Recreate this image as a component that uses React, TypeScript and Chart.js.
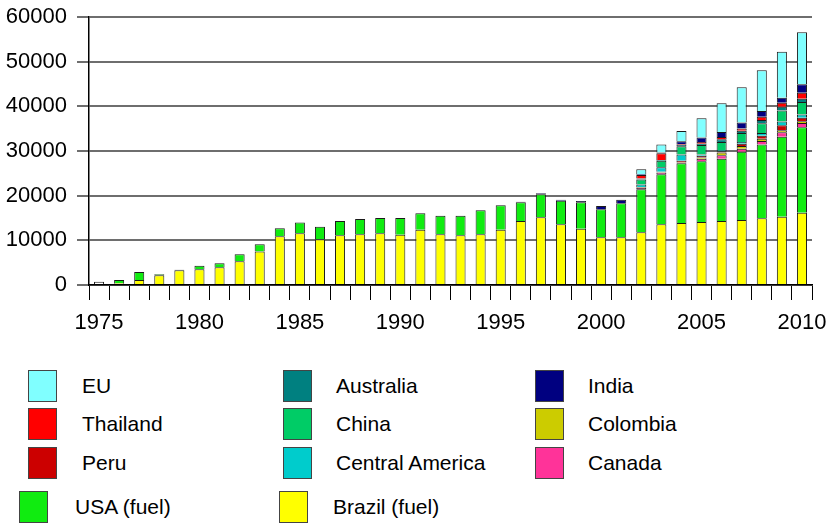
import React, { useEffect, useRef } from "react";
import { Chart, registerables } from "chart.js";
Chart.register(...registerables);

const years = [
  "1975", "1976", "1977", "1978", "1979", "1980", "1981", "1982", "1983", "1984",
  "1985", "1986", "1987", "1988", "1989", "1990", "1991", "1992", "1993", "1994",
  "1995", "1996", "1997", "1998", "1999", "2000", "2001", "2002", "2003", "2004",
  "2005", "2006", "2007", "2008", "2009", "2010",
];

const brazil = [
  700, 400, 1100, 2200, 3300, 3500, 3950, 5300, 7500, 10900,
  11600, 10230, 11130, 11350, 11600, 11260, 12380, 11350, 11130, 11350,
  12380, 14330, 15150, 13590, 12600, 10680, 10680, 11790, 13590, 13880,
  14100, 14330, 14550, 14930, 15300, 16200,
];
const usa = [
  0, 700, 1800, 200, 100, 800, 900, 1600, 1600, 1800,
  2400, 2800, 3200, 3430, 3400, 3740, 3670, 4170, 4390, 5370,
  5460, 4170, 5170, 5260, 5900, 6300, 7600, 9630, 11190, 13360,
  13590, 13960, 15300, 16550, 17900, 19100,
];
// 2002..2010 values for the other producers (earlier years are 0)
const canada = [0, 0, 0, 0, 0, 0, 0, 0, 0, 0, 0, 0, 0, 0, 0, 0, 0, 0, 0, 0, 0, 0, 0, 0, 0, 0, 0, 300, 350, 100, 600, 750, 670, 750, 970, 970];
const colombia = [0, 0, 0, 0, 0, 0, 0, 0, 0, 0, 0, 0, 0, 0, 0, 0, 0, 0, 0, 0, 0, 0, 0, 0, 0, 0, 0, 100, 100, 100, 250, 600, 600, 500, 500, 400];
const peru = [0, 0, 0, 0, 0, 0, 0, 0, 0, 0, 0, 0, 0, 0, 0, 0, 0, 0, 0, 0, 0, 0, 0, 0, 0, 0, 0, 100, 150, 400, 400, 300, 500, 700, 1120, 800];
const centralAmerica = [0, 0, 0, 0, 0, 0, 0, 0, 0, 0, 0, 0, 0, 0, 0, 0, 0, 0, 0, 0, 0, 0, 0, 0, 0, 0, 0, 600, 1000, 1350, 300, 300, 400, 600, 800, 700];
const china = [0, 0, 0, 0, 0, 0, 0, 0, 0, 0, 0, 0, 0, 0, 0, 0, 0, 0, 0, 0, 0, 0, 0, 0, 0, 0, 0, 1100, 1450, 1900, 2100, 1800, 2000, 2200, 2500, 2800];
const australia = [0, 0, 0, 0, 0, 0, 0, 0, 0, 0, 0, 0, 0, 0, 0, 0, 0, 0, 0, 0, 0, 0, 0, 0, 0, 0, 0, 200, 150, 300, 300, 600, 500, 700, 800, 750];
const thailand = [0, 0, 0, 0, 0, 0, 0, 0, 0, 0, 0, 0, 0, 0, 0, 0, 0, 0, 0, 0, 0, 0, 0, 0, 0, 0, 0, 800, 1500, 200, 400, 500, 520, 750, 900, 1340];
const india = [0, 0, 0, 0, 0, 0, 0, 0, 0, 0, 0, 0, 0, 0, 0, 0, 0, 0, 0, 0, 0, 150, 200, 250, 300, 700, 800, 200, 200, 600, 1000, 1100, 1340, 1300, 1120, 1870];
const eu = [0, 0, 0, 0, 0, 0, 0, 0, 0, 0, 0, 0, 0, 0, 0, 0, 0, 0, 0, 0, 0, 0, 0, 0, 0, 0, 0, 1080, 1800, 2280, 4270, 6430, 7870, 9080, 10330, 11640];

const yTicks = [0, 10000, 20000, 30000, 40000, 50000, 60000];

const series = [
  { name: "Brazil (fuel)", data: brazil, color: "#ffff00" },
  { name: "USA (fuel)", data: usa, color: "#10ec10" },
  { name: "Canada", data: canada, color: "#ff3399" },
  { name: "Colombia", data: colombia, color: "#cccc00" },
  { name: "Peru", data: peru, color: "#cc0000" },
  { name: "Central America", data: centralAmerica, color: "#00cccc" },
  { name: "China", data: china, color: "#00cc66" },
  { name: "Australia", data: australia, color: "#008080" },
  { name: "Thailand", data: thailand, color: "#ff0000" },
  { name: "India", data: india, color: "#000080" },
  { name: "EU", data: eu, color: "#80ffff" },
];

const legendLayout = [
  { name: "EU", bx: 28, tx: 82, y: 370 },
  { name: "Australia", bx: 283, tx: 336, y: 370 },
  { name: "India", bx: 535, tx: 588, y: 370 },
  { name: "Thailand", bx: 28, tx: 82, y: 408 },
  { name: "China", bx: 283, tx: 336, y: 408 },
  { name: "Colombia", bx: 535, tx: 588, y: 408 },
  { name: "Peru", bx: 28, tx: 82, y: 447 },
  { name: "Central America", bx: 283, tx: 336, y: 447 },
  { name: "Canada", bx: 535, tx: 588, y: 447 },
  { name: "USA (fuel)", bx: 19, tx: 75, y: 491 },
  { name: "Brazil (fuel)", bx: 279, tx: 333, y: 491 },
];

const FONT = "'Liberation Sans', Arial, sans-serif";

export default function App() {
  const ref = useRef<HTMLCanvasElement | null>(null);

  useEffect(() => {
    if (!ref.current) return;
    const chart = new Chart(ref.current, {
      type: "bar",
      data: {
        labels: years,
        datasets: series.map((s) => ({
          label: s.name,
          data: s.data.map((v) => (v === 0 ? null : v)),
          backgroundColor: s.name === "Brazil (fuel)"
            ? (ctx: any) => (ctx.dataIndex === 0 ? "#ffffff" : s.color)
            : s.color,
          borderColor: "#1a1a1a",
          borderWidth: 1,
          barPercentage: 0.5,
          categoryPercentage: 1,
        })),
      },
      options: {
        responsive: false,
        animation: false,
        layout: { padding: { left: 0, right: 18, top: 17, bottom: 0 } },
        plugins: { legend: { display: false }, tooltip: { enabled: false } },
        scales: {
          x: {
            stacked: true,
            afterFit: (scale: any) => {
              scale.height = 60;
              scale.paddingLeft = 0;
              scale.paddingRight = 0;
            },
            grid: {
              display: true,
              drawOnChartArea: false,
              drawTicks: true,
              tickLength: 15,
              color: "#000",
              lineWidth: 1,
            },
            border: { display: true, color: "#000", width: 1.5 },
            ticks: {
              autoSkip: false,
              maxRotation: 0,
              minRotation: 0,
              padding: 10,
              color: "#000",
              font: { family: FONT, size: 22 },
              callback: (_v: any, i: number) => (Number(years[i]) % 5 === 0 ? years[i] : ""),
            },
          },
          y: {
            stacked: true,
            min: yTicks[0],
            max: yTicks[yTicks.length - 1],
            afterFit: (scale: any) => {
              scale.width = 89;
              scale.paddingTop = 0;
              scale.paddingBottom = 0;
            },
            afterBuildTicks: (scale: any) => {
              scale.ticks = yTicks.map((v) => ({ value: v }));
            },
            grid: {
              color: "#6e6e6e",
              lineWidth: 2,
              tickLength: 12,
              drawTicks: true,
            },
            border: { display: true, color: "#000", width: 1.5 },
            ticks: {
              padding: 10,
              color: "#000",
              font: { family: FONT, size: 22 },
              callback: (v: any) => String(v),
            },
          },
        },
      },
    });
    return () => chart.destroy();
  }, []);

  return (
    <div style={{ position: "fixed", left: 0, top: 0, width: 830, height: 528, background: "#fff", overflow: "hidden" }}>
      <canvas ref={ref} width={830} height={345} style={{ position: "absolute", left: 0, top: 0 }} />
      {legendLayout.map((l) => {
        const s = series.find((x) => x.name === l.name)!;
        return (
          <React.Fragment key={l.name}>
            <div
              style={{
                position: "absolute",
                left: l.bx,
                top: l.y,
                width: 27,
                height: 30,
                background: s.color,
                border: "1px solid #444",
              }}
            />
            <div
              style={{
                position: "absolute",
                left: l.tx,
                top: l.y,
                height: 32,
                lineHeight: "32px",
                fontFamily: FONT,
                fontSize: 21,
                color: "#000",
                whiteSpace: "nowrap",
              }}
            >
              {l.name}
            </div>
          </React.Fragment>
        );
      })}
    </div>
  );
}
